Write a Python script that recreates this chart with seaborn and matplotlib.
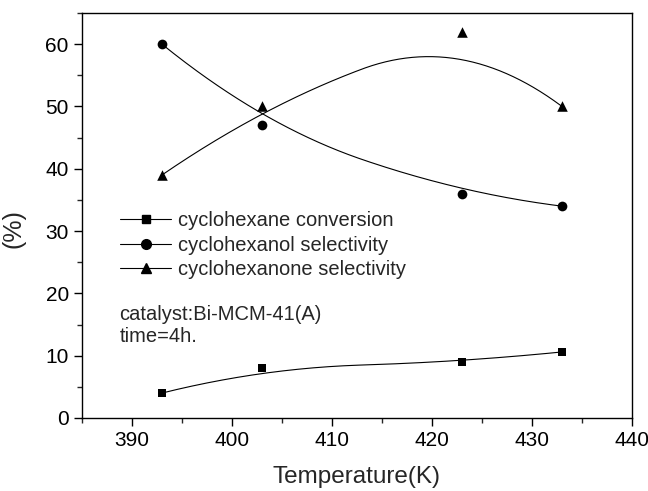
import numpy as np
import pandas as pd
import matplotlib
matplotlib.use("Agg")
import matplotlib.pyplot as plt
from matplotlib.lines import Line2D
from matplotlib.ticker import MultipleLocator
import seaborn as sns

# Reaction temperature (K)
temperature = [393, 403, 423, 433]
# Conversion / selectivity values (%)
conversion = [4.0, 8.0, 9.0, 10.6]
cyclohexanol_sel = [60.0, 47.0, 36.0, 34.0]
cyclohexanone_sel = [39.0, 50.0, 62.0, 50.0]

series_names = ["cyclohexane conversion",
                "cyclohexanol selectivity",
                "cyclohexanone selectivity"]
series_values = [conversion, cyclohexanol_sel, cyclohexanone_sel]
series_markers = ["s", "o", "^"]
series_msize = [6.0, 7.0, 7.6]


def quad_bspline(xs, ys, n=120):
    """Clamped quadratic B-spline using the data points as control points."""
    P = np.column_stack([xs, ys]).astype(float)
    m = len(P)
    mids = [(P[i] + P[i + 1]) / 2 for i in range(1, m - 2)]
    starts = [P[0]] + mids
    ends = mids + [P[-1]]
    ctrls = [P[i] for i in range(1, m - 1)]
    t = np.linspace(0, 1, n)[:, None]
    pts = []
    for a, c, b in zip(starts, ctrls, ends):
        seg = (1 - t) ** 2 * a + 2 * t * (1 - t) * c + t ** 2 * b
        pts.append(seg)
    pts = np.vstack(pts)
    return pts[:, 0], pts[:, 1]


sns.set_style("ticks")
plt.rcParams["font.family"] = ["Liberation Sans", "DejaVu Sans"]

fig = plt.figure(figsize=(6.48, 4.91), dpi=100)
ax = fig.add_axes([0.1265, 0.1487, 0.8488, 0.8248])

points = pd.DataFrame({
    "T": np.tile(temperature, 3),
    "value": np.concatenate(series_values),
    "series": np.repeat(series_names, len(temperature)),
})

for name, vals, mk, ms in zip(series_names, series_values, series_markers, series_msize):
    cx, cy = quad_bspline(temperature, vals)
    curve = pd.DataFrame({"T": cx, "value": cy})
    sns.lineplot(data=curve, x="T", y="value", sort=False, color="black",
                 linewidth=0.8, ax=ax, legend=False)
    sns.scatterplot(data=points[points["series"] == name], x="T", y="value",
                    marker=mk, s=ms ** 2, color="black", linewidth=0,
                    ax=ax, legend=False, zorder=3)

ax.set_xlim(385, 440)
ax.set_ylim(0, 65)
ax.xaxis.set_major_locator(MultipleLocator(10))
ax.xaxis.set_minor_locator(MultipleLocator(5))
ax.yaxis.set_major_locator(MultipleLocator(10))
ax.yaxis.set_minor_locator(MultipleLocator(5))
ax.tick_params(which="major", direction="out", length=5.5, width=1.0,
               labelsize=15, colors="black", pad=4)
ax.tick_params(which="minor", direction="out", length=3.5, width=1.0)
ax.tick_params(top=False, right=False, which="both")
for sp in ax.spines.values():
    sp.set_visible(True)
    sp.set_linewidth(1.0)
    sp.set_color("black")

ax.set_xlabel("Temperature(K)", fontsize=17.5)
ax.set_ylabel("(%)", fontsize=18)
ax.xaxis.set_label_coords(0.5, -0.118)
ax.yaxis.set_label_coords(-0.102, 0.467)

handles = [Line2D([], [], color="black", lw=0.8, marker=mk, markersize=ms)
           for mk, ms in zip(series_markers, series_msize)]
ax.legend(handles, series_names, loc="upper left",
          bbox_to_anchor=(0.07, 0.51), frameon=False, fontsize=14.5,
          handlelength=2.5, handletextpad=0.35, labelspacing=0.26,
          borderpad=0, borderaxespad=0)

ax.text(0.068, 0.28, "catalyst:Bi-MCM-41(A)\ntime=4h.", transform=ax.transAxes,
        fontsize=14.5, va="top", ha="left", linespacing=1.25)

fig.savefig("out.png", dpi=100)
